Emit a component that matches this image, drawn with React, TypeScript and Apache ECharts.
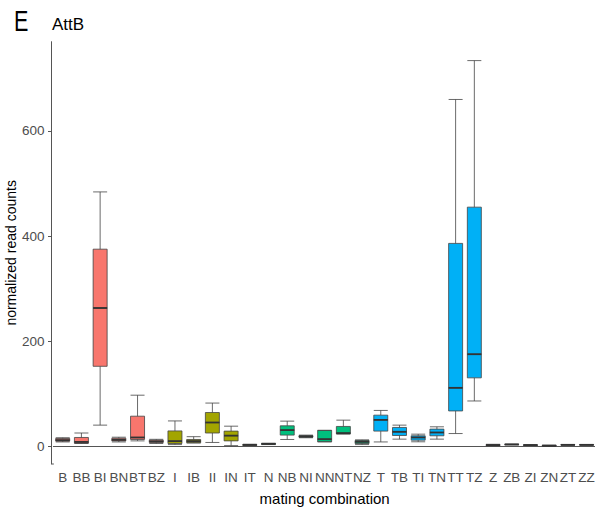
import React, { useEffect, useRef } from "react";
import * as echarts from "echarts";

const categories = ["B","BB","BI","BN","BT","BZ","I","IB","II","IN","IT","N","NB","NI","NN","NT","NZ","T","TB","TI","TN","TT","TZ","Z","ZB","ZI","ZN","ZT","ZZ"];
const whiskerLow = [8,5,40,8,10,5,3,6,7,1,1,3,12.7,16,8.3,23,3,8,13.3,8.3,13.3,24,86,0.5,2.5,1.5,0,2,2];
const q1 = [9.5,5.7,152,10,12.7,7,5,6.5,25,10,1.5,3.5,21,17,8.3,23.5,5,28.6,20.3,11.4,19.7,67,130,1,3,1.8,0.3,2.3,2.3];
const median = [11.4,8,263,12,16.5,9,9.5,9.5,45,20,2.5,4.4,30.5,18.4,13.3,24.8,8.3,50,27.3,16.5,26,111,175,2,3.2,2,0.8,2.5,2.5];
const q3 = [14.7,16.5,375,15,57,11.4,29,12.7,64,28.6,3,5,38.7,20,30,37.5,10.8,59,35.6,19.7,32.4,386,455,3,3.4,2.2,1.5,2.8,2.8];
const whiskerHigh = [16,25,484,17,97,13,48,18,82,38,3.5,5.5,47.6,21,30,49.5,12,68,40,22.8,36.8,660,734,3.5,3.8,2.5,1.8,3,3];
const yTicks = [0, 200, 400, 600];
const groupColors: Record<string, string> = { B: "#F8766D", I: "#A3A500", N: "#00BF7D", T: "#00B0F6", Z: "#E76BF3" };

export default function App() {
  const ref = useRef<HTMLDivElement>(null);
  useEffect(() => {
    if (!ref.current) return;
    const chart = echarts.init(ref.current, null, { renderer: "svg" });
    const boxData = categories.map((c, i) => ({
      value: [whiskerLow[i], q1[i], median[i], q3[i], whiskerHigh[i]],
      itemStyle: { color: groupColors[c[0]] },
    }));
    const gridLeft = 53.35;
    const gridTop = 41.7;
    const gridHeight = 422.3;
    chart.setOption({
      animation: false,
      backgroundColor: "#ffffff",
      grid: { left: gridLeft, top: gridTop, width: 542.6, height: gridHeight, containLabel: false, outerBoundsMode: "none" },
      xAxis: {
        type: "category",
        data: categories,
        boundaryGap: true,
        name: "mating combination",
        nameLocation: "middle",
        nameGap: 27,
        nameMoveOverlap: false,
        nameTextStyle: { color: "#000", fontSize: 15, fontFamily: "Liberation Sans" },
        axisLine: { lineStyle: { color: "#555", width: 1 } },
        axisTick: { alignWithLabel: true, interval: 0, length: 3.5, lineStyle: { color: "#555" } },
        axisLabel: { color: "#4D4D4D", fontSize: 13.5, fontFamily: "Liberation Sans", interval: 0, margin: 6, hideOverlap: false },
        splitLine: { show: false },
      },
      yAxis: {
        type: "value",
        min: -34,
        max: 770,
        offset: 1.85,
        name: "normalized read counts",
        nameLocation: "middle",
        nameGap: 34,
        nameMoveOverlap: false,
        nameTextStyle: { color: "#000", fontSize: 14, fontFamily: "Liberation Sans" },
        axisLine: { show: true, lineStyle: { color: "#555", width: 1 } },
        axisTick: { show: true, length: 3.5, lineStyle: { color: "#555" }, customValues: yTicks },
        axisLabel: { color: "#4D4D4D", fontSize: 13.5, fontFamily: "Liberation Sans", margin: 7, customValues: yTicks },
        splitLine: { show: false },
      },
      series: [
        {
          type: "boxplot",
          data: boxData,
          boxWidth: [14, 14],
          itemStyle: { borderColor: "#444", borderWidth: 0.8 },
          emphasis: { disabled: true },
        },
        {
          type: "custom",
          data: median.map((m, i) => [i, m]),
          renderItem: (params: any, api: any) => {
            const p = api.coord([api.value(0), api.value(1)]);
            return {
              type: "line",
              shape: { x1: p[0] - 7, y1: p[1], x2: p[0] + 7, y2: p[1] },
              style: { stroke: "#333", lineWidth: 1.8 },
            };
          },
          silent: true,
          z: 5,
        },
      ],
      graphic: [
        {
          type: "line",
          shape: { x1: 51.5, y1: gridTop + gridHeight, x2: gridLeft + 0.5, y2: gridTop + gridHeight },
          style: { stroke: "#555", lineWidth: 1 },
        },
        {
          type: "text",
          x: 14,
          y: 36,
          scaleX: 0.72,
          style: { text: "E", fontSize: 30, fontFamily: "Liberation Sans", fill: "#000", verticalAlign: "bottom" },
        },
        {
          type: "text",
          x: 52,
          y: 33,
          style: { text: "AttB", fontSize: 17, fontFamily: "Liberation Sans", fill: "#000", verticalAlign: "bottom" },
        },
      ],
    });
    return () => chart.dispose();
  }, []);
  return <div ref={ref} style={{ position: "fixed", left: 0, top: 0, width: 595, height: 512 }} />;
}
